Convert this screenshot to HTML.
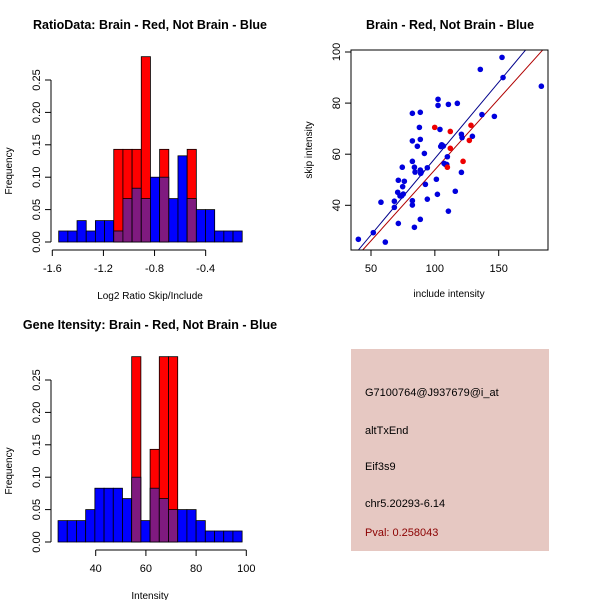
<!DOCTYPE html>
<html><head><meta charset="utf-8"><style>
html,body{margin:0;padding:0;background:#fff;}
svg{display:block;font-family:"Liberation Sans",sans-serif;}
</style></head><body>
<svg id="c" width="600" height="600" viewBox="0 0 600 600" xmlns="http://www.w3.org/2000/svg">
<rect x="0" y="0" width="600" height="600" fill="#fff"/>
<g id="p1"></g>
<g id="p2"></g>
<g id="p3"></g>
<g>
<rect x="351" y="349" width="198" height="202" fill="#e6c8c2"/>
<text x="365" y="396" font-size="11" fill="#000">G7100764@J937679@i_at</text>
<text x="365" y="434" font-size="11" fill="#000">altTxEnd</text>
<text x="365" y="470" font-size="11" fill="#000">Eif3s9</text>
<text x="365" y="507" font-size="11" fill="#000">chr5.20293-6.14</text>
<text x="365" y="536" font-size="11" fill="#8b0000">Pval: 0.258043</text>
</g>
</svg>
<script>
// ----- Ratio histogram data -----
const ratioStart = -1.55;
const ratioBinWidth = 0.0718;
const ratioBlue = [0.017,0.017,0.033,0.017,0.033,0.033,0.017,0.067,0.083,0.067,0.1,0.1,0.067,0.133,0.067,0.05,0.05,0.017,0.017,0.017];
const ratioRed  = [0,0,0,0,0,0,0.143,0.143,0.143,0.286,0,0.143,0,0,0.143,0,0,0,0,0];
const ratioXTicks = [-1.6,-1.2,-0.8,-0.4];
const freqTicks = [0,0.05,0.1,0.15,0.2,0.25];
const freqTickLabels = ["0.00","0.05","0.10","0.15","0.20","0.25"];
// ----- Intensity histogram data -----
const intStart = 25.0;
const intBinWidth = 3.667;
const intBlue = [0.033,0.033,0.033,0.05,0.083,0.083,0.083,0.067,0.1,0.033,0.083,0.067,0.05,0.05,0.05,0.033,0.017,0.017,0.017,0.017];
const intRed  = [0,0,0,0,0,0,0,0,0.286,0,0.143,0.286,0.286,0,0,0,0,0,0,0];
const intXTicks = [40,60,80,100];
// ----- Scatter data -----
const blueX = [40.1,51.8,61.2,57.8,68.3,68.3,71.4,71.4,70.9,72.7,74,74.8,75.3,76.1,74.5,82.4,82.4,82.4,82.4,82.4,84,84,84.5,86.3,87.9,88.6,88.6,88.6,88.9,89.4,88.6,91.8,92.6,94.1,94.1,101.2,102,102.5,102.5,104,104.6,105.4,106.7,107.2,108.2,109.3,109.8,110.6,110.6,117.6,116,120.8,120.8,121.3,129.4,135.6,136.9,146.6,152.6,153.4,183.4];
const blueY = [26.7,29.3,25.6,41.2,41.6,39.2,32.9,49.8,45.1,43.7,43.7,47.3,44.4,49.4,54.9,76.0,65.2,57.2,41.8,40.1,31.4,54.9,53.0,63.1,70.5,76.4,65.8,53.8,52.5,53.0,34.5,60.3,48.2,54.7,42.4,50.2,44.3,79.1,81.5,69.7,63.0,63.7,63.2,56.4,56.0,56.0,59.0,79.5,37.7,79.9,45.5,52.9,67.8,66.5,67.0,93.2,75.5,74.8,97.9,90.0,86.6];
const redX = [99.9,109.8,112.1,112.1,122.1,127,128.3];
const redY = [70.5,54.9,68.9,62.3,57.2,65.4,71.3];
const blueLine = [[40.1,22.5],[171.1,100.8]];
const redLine = [[43.5,22.5],[184.5,100.8]];
const scatterXTicks = [50,100,150];
const scatterYTicks = [40,60,80,100];

const NS = "http://www.w3.org/2000/svg";
function mk(parent, tag, attrs, text){
  const e = document.createElementNS(NS, tag);
  for (const k in attrs) e.setAttribute(k, attrs[k]);
  if (text !== undefined) e.textContent = text;
  parent.appendChild(e);
  return e;
}

function histogram(g, title, xlabel, start, bw, blue, red, xticks, xs, ys, titleY){
  const t = mk(g,'text',{x:150,y:titleY,'font-size':12.5,'font-weight':'bold','text-anchor':'middle'},title);
  
  
  for (let i=0;i<blue.length;i++){
    const x0 = xs(start+i*bw), x1 = xs(start+(i+1)*bw);
    const b = blue[i], r = red[i];
    if (r>0){
      const rr = mk(g,'rect',{x:x0,y:ys(r),width:x1-x0,height:ys(0)-ys(r),fill:'#ff0000',stroke:'#000','stroke-width':0.8});
      
      
    }
    if (b>0){
      const col = (r>0)? '#7f1a7f' : '#0000ff';
      const br = mk(g,'rect',{x:x0,y:ys(b),width:x1-x0,height:ys(0)-ys(b),fill:col,stroke:'#000','stroke-width':0.8});
      
      
    }
  }
  const ya = mk(g,'line',{x1:51,x2:51,y1:ys(0),y2:ys(0.25),stroke:'#000'});
  
  
  freqTicks.forEach((v,i)=>{
    const y = ys(v);
    mk(g,'line',{x1:45,x2:51,y1:y,y2:y,stroke:'#000'});
    const tl = mk(g,'text',{transform:`translate(40,${y}) rotate(-90)`,'font-size':11,'text-anchor':'middle'},freqTickLabels[i]);
    
    
  });
  const yt = mk(g,'text',{transform:`translate(12,${(ys(0)+ys(0.25))/2+10}) rotate(-90)`,'font-size':10,'text-anchor':'middle'},'Frequency');
  
  
  const axY = ys(0)+8;
  const xa = mk(g,'line',{x1:xs(xticks[0]),x2:xs(xticks[xticks.length-1]),y1:axY,y2:axY,stroke:'#000'});
  
  
  xticks.forEach(v=>{
    const x = xs(v);
    mk(g,'line',{x1:x,x2:x,y1:axY,y2:axY+6,stroke:'#000'});
    const tl = mk(g,'text',{x:x,y:axY+22,'font-size':11,'text-anchor':'middle'},String(v));
    
    
  });
  const xt = mk(g,'text',{x:150,y:ys(0)+57,'font-size':10,'text-anchor':'middle'},xlabel);
  
  
}

{
  const g = document.getElementById('p1');
  const xs = v => 52.3 + (v+1.6)*127.8;
  const ys = v => 242 - v*648;
  histogram(g,'RatioData: Brain - Red, Not Brain - Blue','Log2 Ratio Skip/Include',ratioStart,ratioBinWidth,ratioBlue,ratioRed,ratioXTicks,xs,ys,29);
}
{
  const g = document.getElementById('p3');
  const xs = v => 95.7 + (v-40)*2.51;
  const ys = v => 542 - v*648;
  histogram(g,'Gene Itensity: Brain - Red, Not Brain - Blue','Intensity',intStart,intBinWidth,intBlue,intRed,intXTicks,xs,ys,329);
}
{
  const g = document.getElementById('p2');
  const xs = v => 371 + (v-50)*1.277;
  const ys = v => 52 + (100-v)*2.555;
  const t = mk(g,'text',{x:450,y:29,'font-size':12.5,'font-weight':'bold','text-anchor':'middle'},'Brain - Red, Not Brain - Blue');
  
  
  mk(g,'clipPath',{id:'sc'}).appendChild(document.createElementNS(NS,'rect'));
  const cr = g.querySelector('#sc rect');
  cr.setAttribute('x',351);cr.setAttribute('y',50);cr.setAttribute('width',197);cr.setAttribute('height',200);
  const bl = mk(g,'line',{x1:xs(blueLine[0][0]),y1:ys(blueLine[0][1]),x2:xs(blueLine[1][0]),y2:ys(blueLine[1][1]),stroke:'#00008b','stroke-width':1,'clip-path':'url(#sc)'});
  
  
  const rl = mk(g,'line',{x1:xs(redLine[0][0]),y1:ys(redLine[0][1]),x2:xs(redLine[1][0]),y2:ys(redLine[1][1]),stroke:'#b00000','stroke-width':1,'clip-path':'url(#sc)'});
  
  
  for (let i=0;i<blueX.length;i++){
    const c = mk(g,'circle',{cx:xs(blueX[i]),cy:ys(blueY[i]),r:2.8,fill:'#0000dd'});
    
    
  }
  for (let i=0;i<redX.length;i++){
    const c = mk(g,'circle',{cx:xs(redX[i]),cy:ys(redY[i]),r:2.8,fill:'#ee0000'});
    
    
  }
  const box = mk(g,'rect',{x:351,y:50,width:197,height:200,fill:'none',stroke:'#000'});
  
  
  scatterXTicks.forEach(v=>{
    const x = xs(v);
    mk(g,'line',{x1:x,x2:x,y1:250,y2:256,stroke:'#000'});
    const tl = mk(g,'text',{x:x,y:272,'font-size':11,'text-anchor':'middle'},String(v));
    
    
  });
  scatterYTicks.forEach(v=>{
    const y = ys(v);
    mk(g,'line',{x1:345,x2:351,y1:y,y2:y,stroke:'#000'});
    const tl = mk(g,'text',{transform:`translate(340,${y}) rotate(-90)`,'font-size':11,'text-anchor':'middle'},String(v));
    
    
  });
  const xt = mk(g,'text',{x:449,y:297,'font-size':10,'text-anchor':'middle'},'include intensity');
  
  
  const yt = mk(g,'text',{transform:'translate(312,150) rotate(-90)','font-size':10,'text-anchor':'middle'},'skip intensity');
  
  
}
</script>
</body></html>
